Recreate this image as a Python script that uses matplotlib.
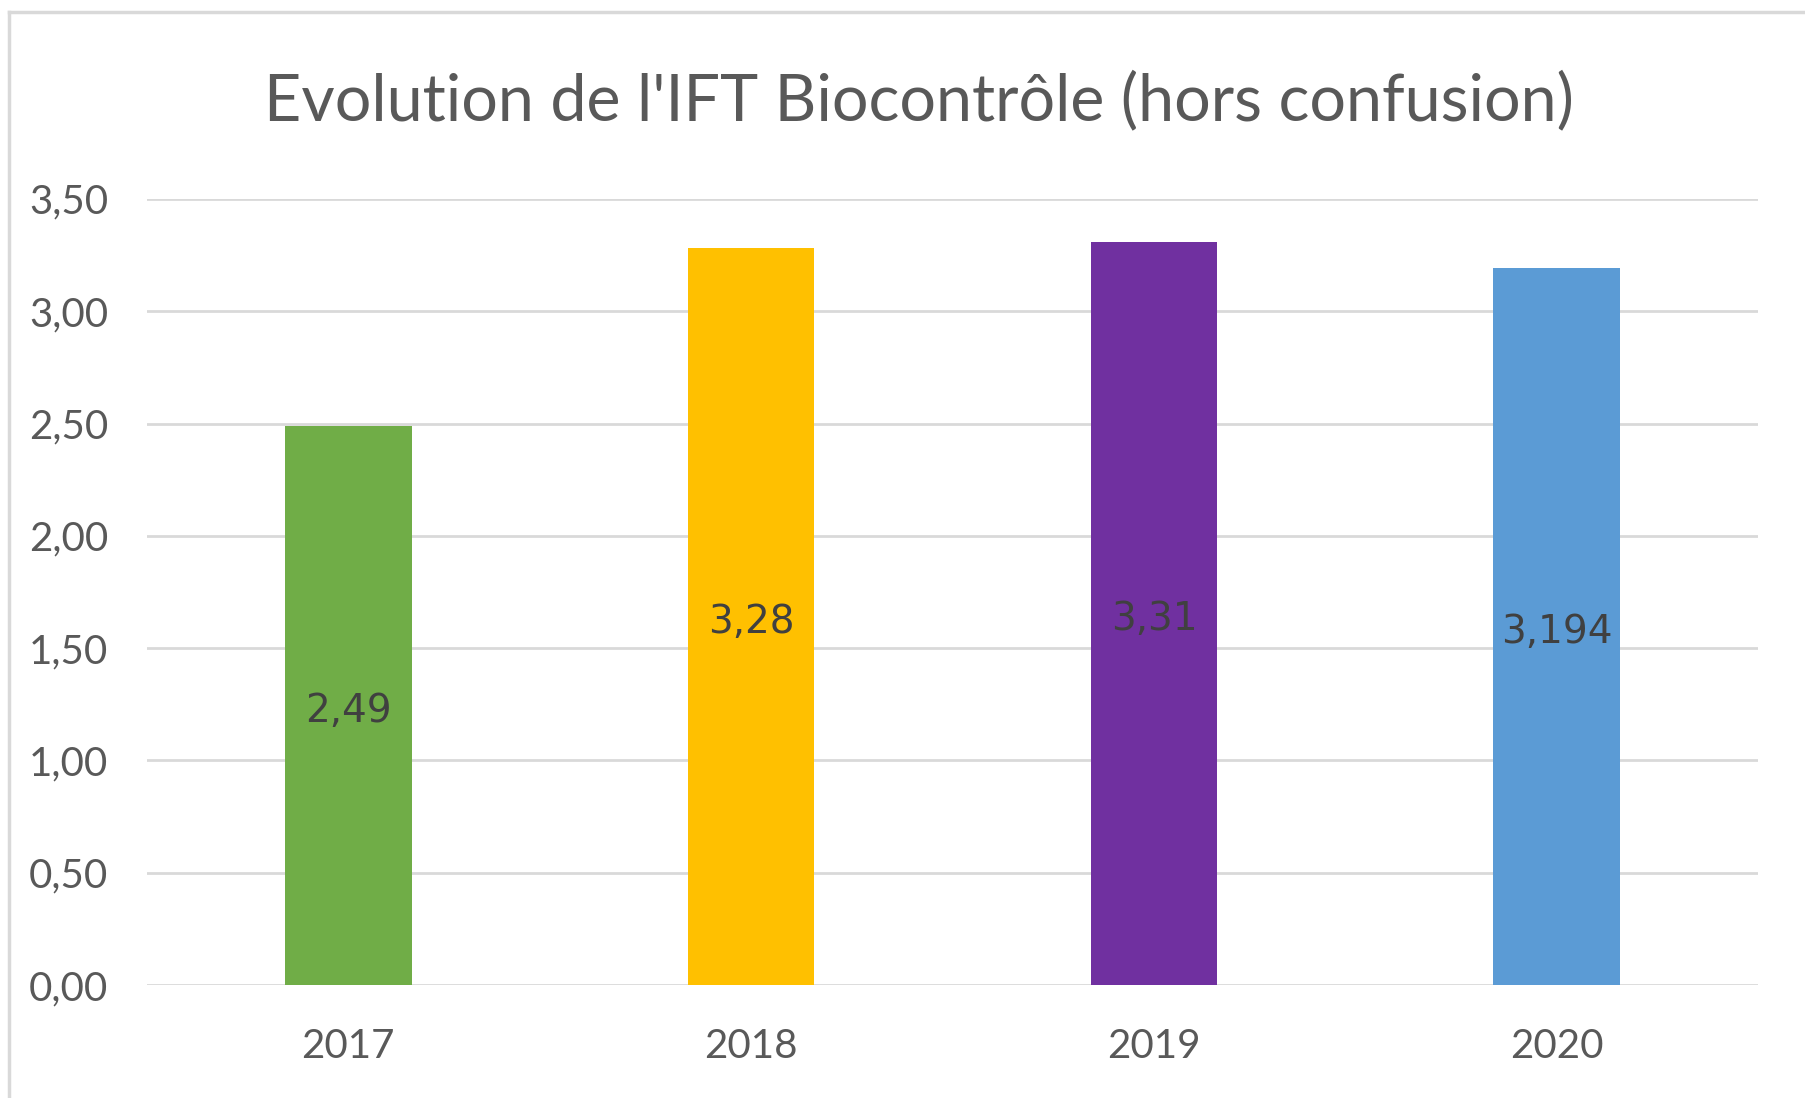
import matplotlib
matplotlib.use('Agg')
import matplotlib.pyplot as plt
from matplotlib.lines import Line2D

years = ['2017', '2018', '2019', '2020']
ift_values = [2.49, 3.28, 3.31, 3.194]
value_labels = ['2,49', '3,28', '3,31', '3,194']
bar_colors = ['#70AD47', '#FFC000', '#7030A0', '#5B9BD5']
yticks = [0.0, 0.5, 1.0, 1.5, 2.0, 2.5, 3.0, 3.5]
ytick_labels = ['0,00', '0,50', '1,00', '1,50', '2,00', '2,50', '3,00', '3,50']

text_gray = '#595959'
grid_gray = '#D9D9D9'

fig = plt.figure(figsize=(18.05, 10.98), dpi=100)
ax = fig.add_axes([0.0814, 0.1029, 0.8926, 0.7159])

x = range(len(years))
ax.bar(x, ift_values, width=0.314, color=bar_colors, zorder=2)

# value labels centred in each bar
for xi, v, lab in zip(x, ift_values, value_labels):
    ax.annotate(lab, (xi, v / 2), xytext=(0, -4), textcoords='offset points',
                ha='center', va='center', fontsize=28, family='DejaVu Sans',
                color='#404040', zorder=3)

ax.set_xlim(-0.5, len(years) - 0.5)
ax.set_ylim(0, 3.5)
ax.set_yticks(yticks)
ax.set_yticklabels(ytick_labels)
ax.set_xticks(list(x))
ax.set_xticklabels(years)
ax.tick_params(axis='both', length=0, labelsize=29, labelcolor=text_gray,
               labelfontfamily='Lato')
ax.tick_params(axis='y', pad=28)
ax.tick_params(axis='x', pad=31)
ax.yaxis.grid(True, color=grid_gray, linewidth=2, zorder=0)
for s in ax.spines.values():
    s.set_visible(False)

fig.text(0.509, 0.908, "Evolution de l'IFT Biocontrôle (hors confusion)",
         ha='center', va='center', fontsize=46.5, color=text_gray, family='Lato')

# outer chart frame (only top and left edges visible)
fig.add_artist(Line2D([9 / 1805, 1], [1 - 11.5 / 1098, 1 - 11.5 / 1098],
                      color=grid_gray, linewidth=2.5, transform=fig.transFigure))
fig.add_artist(Line2D([9 / 1805, 9 / 1805], [0, 1 - 11.5 / 1098],
                      color=grid_gray, linewidth=2.5, transform=fig.transFigure))

fig.savefig('out.png', dpi=100, facecolor='white')
